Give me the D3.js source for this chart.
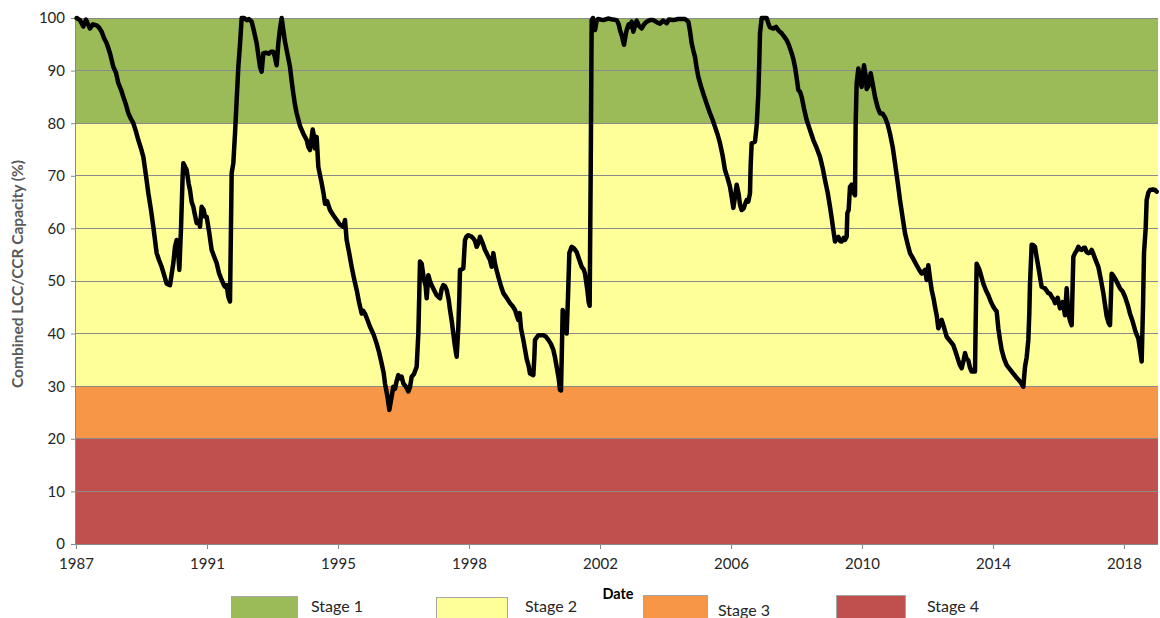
<!DOCTYPE html>
<html>
<head>
<meta charset="utf-8">
<script src="https://cdnjs.cloudflare.com/ajax/libs/d3/7.8.5/d3.min.js"></script>
<style>
  html, body { margin: 0; padding: 0; background: #ffffff; }
  svg { display: block; font-family: Lato, "Open Sans", sans-serif; }
</style>
</head>
<body>
<svg id="chart" width="1160" height="618"></svg>
<script>
// Drought stage thresholds (% of combined capacity)
const stageNames = ["Stage 1", "Stage 2", "Stage 3", "Stage 4"];
const stageBounds = [[80, 100], [30, 80], [20, 30], [0, 20]];

// Axis ticks: dates (decimal years) and the labels printed under them
const tickYears = [1987.17, 1991.10, 1995.03, 1998.96, 2002.89, 2006.82, 2010.75, 2014.68, 2018.61];
const tickLabels = ["1987", "1991", "1995", "1998", "2002", "2006", "2010", "2014", "2018"];
const yTicks = [0, 10, 20, 30, 40, 50, 60, 70, 80, 90, 100];
const dateDomain = [1987.17, 2019.63];

// Combined LCC/CCR capacity (%) by date (decimal year)
const capacity = [
  [1987.19,100],[1987.29,99.6],[1987.39,98.4],[1987.47,99.7],[1987.59,98.0],[1987.68,98.8],[1987.79,98.6],[1987.86,98.2],
  [1987.94,97.4],[1988.01,96.2],[1988.09,95.2],[1988.19,93.3],[1988.29,90.7],[1988.37,89.6],[1988.44,87.6],[1988.52,86.4],
  [1988.59,85.0],[1988.67,83.5],[1988.74,81.9],[1988.82,80.8],[1988.89,80.0],[1988.97,78.4],[1989.04,76.8],[1989.12,75.2],
  [1989.19,73.6],[1989.27,70.0],[1989.34,66.7],[1989.42,63.5],[1989.49,60.3],[1989.59,55.3],[1989.66,54.0],[1989.74,52.7],
  [1989.81,51.2],[1989.89,49.5],[1989.99,49.2],[1990.09,53.4],[1990.14,56.5],[1990.19,57.8],[1990.23,56.0],[1990.27,52.1],
  [1990.32,60.0],[1990.37,70.0],[1990.39,72.4],[1990.49,71.1],[1990.55,68.5],[1990.59,67.3],[1990.64,65.0],[1990.69,64.1],
  [1990.74,62.5],[1990.79,61.0],[1990.85,61.5],[1990.89,60.3],[1990.94,64.1],[1991.00,63.5],[1991.04,62.2],[1991.09,62.2],
  [1991.16,59.5],[1991.24,55.9],[1991.31,54.7],[1991.39,53.4],[1991.46,51.5],[1991.54,50.2],[1991.60,49.3],[1991.64,48.9],
  [1991.69,49.2],[1991.74,47.0],[1991.79,46.1],[1991.84,70.5],[1991.89,72.4],[1991.94,78.0],[1991.99,84.4],[1992.04,90.7],
  [1992.09,95.0],[1992.14,100],[1992.21,100],[1992.29,99.6],[1992.36,99.8],[1992.44,99.3],[1992.51,97.5],[1992.59,95.2],
  [1992.65,92.5],[1992.69,90.7],[1992.74,89.8],[1992.79,93.3],[1992.87,93.4],[1992.95,93.2],[1993.02,93.6],[1993.09,93.6],
  [1993.14,92.5],[1993.19,91.0],[1993.24,95.2],[1993.29,98.0],[1993.34,100],[1993.39,97.7],[1993.44,95.5],[1993.49,93.9],
  [1993.55,92.0],[1993.59,90.7],[1993.64,88.0],[1993.69,85.6],[1993.74,83.5],[1993.79,81.9],[1993.89,79.5],[1993.99,78.0],
  [1994.09,76.8],[1994.14,75.5],[1994.19,74.9],[1994.27,78.8],[1994.31,77.5],[1994.34,75.2],[1994.39,77.4],[1994.44,71.7],
  [1994.54,68.6],[1994.60,66.5],[1994.64,64.7],[1994.70,65.2],[1994.79,63.5],[1994.89,62.5],[1994.99,61.6],[1995.09,60.7],
  [1995.19,60.3],[1995.24,61.6],[1995.29,57.8],[1995.36,55.5],[1995.44,52.7],[1995.51,50.5],[1995.59,48.3],[1995.66,46.0],
  [1995.74,43.8],[1995.79,44.3],[1995.84,43.8],[1995.92,42.5],[1995.99,41.3],[1996.10,39.8],[1996.19,38.1],[1996.26,36.5],
  [1996.34,34.3],[1996.40,32.5],[1996.44,30.5],[1996.52,27.8],[1996.57,25.5],[1996.64,28.0],[1996.69,29.9],[1996.74,29.5],
  [1996.79,31.0],[1996.84,32.1],[1996.89,31.5],[1996.94,31.8],[1996.99,30.5],[1997.06,30.0],[1997.14,29.0],[1997.19,29.8],
  [1997.24,31.8],[1997.31,32.3],[1997.39,33.7],[1997.44,40.0],[1997.47,48.0],[1997.49,53.7],[1997.54,53.3],[1997.58,51.5],
  [1997.61,50.2],[1997.66,49.0],[1997.69,46.7],[1997.74,51.1],[1997.79,50.0],[1997.84,49.2],[1997.91,48.3],[1997.99,47.3],
  [1998.05,46.9],[1998.09,46.7],[1998.14,48.5],[1998.19,49.2],[1998.24,49.0],[1998.29,48.3],[1998.35,46.5],[1998.39,44.5],
  [1998.44,42.5],[1998.49,40.0],[1998.54,37.5],[1998.59,35.6],[1998.64,41.3],[1998.67,47.0],[1998.69,52.1],[1998.74,52.2],
  [1998.79,52.4],[1998.84,57.8],[1998.89,58.5],[1998.94,58.7],[1999.02,58.5],[1999.09,58.1],[1999.14,57.6],[1999.19,56.5],
  [1999.25,57.3],[1999.29,58.4],[1999.37,57.2],[1999.44,55.9],[1999.49,55.3],[1999.54,54.6],[1999.59,54.0],[1999.64,52.7],
  [1999.69,55.3],[1999.74,53.3],[1999.79,52.0],[1999.84,50.8],[1999.92,49.0],[1999.99,47.7],[2000.09,46.8],[2000.19,45.8],
  [2000.27,45.2],[2000.34,44.5],[2000.39,43.5],[2000.44,42.6],[2000.48,43.9],[2000.52,41.0],[2000.59,38.8],[2000.64,37.0],
  [2000.69,35.2],[2000.75,33.8],[2000.79,32.4],[2000.89,32.1],[2000.92,35.5],[2000.94,38.8],[2001.04,39.7],[2001.19,39.7],
  [2001.27,39.4],[2001.34,38.8],[2001.42,38.0],[2001.49,36.9],[2001.54,35.5],[2001.59,33.7],[2001.65,31.5],[2001.69,29.3],
  [2001.72,29.2],[2001.75,38.0],[2001.77,44.5],[2001.81,43.5],[2001.84,42.6],[2001.89,40.0],[2001.93,47.0],[2001.97,55.3],
  [2002.04,56.5],[2002.11,56.2],[2002.19,55.5],[2002.26,54.2],[2002.34,52.7],[2002.40,52.2],[2002.44,51.4],[2002.51,48.3],
  [2002.55,46.0],[2002.58,45.3],[2002.61,70.0],[2002.64,99.6],[2002.68,100],[2002.74,97.7],[2002.79,99.5],[2002.83,99.8],
  [2002.99,99.6],[2003.13,99.9],[2003.28,99.7],[2003.39,99.6],[2003.45,98.8],[2003.49,97.7],[2003.55,96.5],[2003.61,94.9],
  [2003.66,96.8],[2003.69,97.7],[2003.75,98.8],[2003.79,98.3],[2003.84,99.3],[2003.89,97.4],[2003.94,98.5],[2003.99,99.5],
  [2004.06,98.5],[2004.14,98.0],[2004.21,98.8],[2004.29,99.3],[2004.39,99.6],[2004.49,99.6],[2004.59,99.2],[2004.69,98.9],
  [2004.78,99.5],[2004.89,99.0],[2004.96,99.7],[2005.09,99.6],[2005.23,99.8],[2005.44,99.8],[2005.54,99.3],[2005.59,97.5],
  [2005.64,95.2],[2005.69,93.8],[2005.74,92.6],[2005.79,90.5],[2005.84,88.8],[2005.92,87.0],[2005.99,85.6],[2006.09,83.7],
  [2006.19,81.9],[2006.27,80.6],[2006.34,79.3],[2006.42,77.8],[2006.49,76.2],[2006.57,73.8],[2006.64,71.1],[2006.72,69.5],
  [2006.79,67.9],[2006.84,66.0],[2006.89,63.9],[2006.94,66.0],[2006.99,68.3],[2007.05,66.5],[2007.09,64.5],[2007.14,63.5],
  [2007.20,63.8],[2007.24,64.6],[2007.29,65.4],[2007.34,65.1],[2007.39,66.7],[2007.41,72.0],[2007.44,76.2],[2007.54,76.5],
  [2007.59,79.5],[2007.64,85.6],[2007.67,92.0],[2007.69,97.1],[2007.74,100],[2007.89,100],[2007.95,98.8],[2007.99,98.2],
  [2008.09,98.0],[2008.17,98.3],[2008.25,97.6],[2008.34,97.1],[2008.41,96.5],[2008.49,95.8],[2008.56,94.8],[2008.64,93.3],
  [2008.69,92.2],[2008.74,90.7],[2008.79,88.6],[2008.84,86.3],[2008.89,86.0],[2008.94,85.0],[2009.01,82.8],[2009.09,80.6],
  [2009.19,78.7],[2009.29,76.8],[2009.39,75.3],[2009.49,73.6],[2009.57,71.5],[2009.64,69.2],[2009.72,66.8],[2009.79,64.1],
  [2009.84,62.0],[2009.89,59.7],[2009.94,57.5],[2009.99,58.0],[2010.04,58.4],[2010.09,57.6],[2010.14,57.5],[2010.20,58.2],
  [2010.24,57.8],[2010.29,58.4],[2010.31,62.9],[2010.35,63.5],[2010.39,67.9],[2010.44,68.3],[2010.48,67.0],[2010.54,66.3],
  [2010.56,80.0],[2010.59,87.6],[2010.64,90.4],[2010.69,88.0],[2010.74,86.9],[2010.77,89.0],[2010.81,91.0],[2010.86,89.0],
  [2010.89,86.5],[2010.94,87.0],[2010.98,88.5],[2011.01,89.5],[2011.07,87.5],[2011.14,85.0],[2011.22,83.0],[2011.29,81.9],
  [2011.37,81.8],[2011.44,81.1],[2011.52,79.8],[2011.59,78.0],[2011.67,75.5],[2011.74,72.4],[2011.82,68.8],[2011.89,65.4],
  [2011.97,62.0],[2012.04,59.1],[2012.12,57.0],[2012.19,55.3],[2012.28,54.3],[2012.39,53.0],[2012.46,52.2],[2012.54,51.4],
  [2012.60,51.8],[2012.64,52.1],[2012.69,50.2],[2012.74,53.0],[2012.79,50.5],[2012.84,48.3],[2012.90,46.6],[2012.94,45.1],
  [2012.99,43.5],[2013.04,41.0],[2013.09,41.8],[2013.14,42.6],[2013.21,41.2],[2013.29,39.4],[2013.39,38.6],[2013.49,37.8],
  [2013.57,36.3],[2013.64,34.9],[2013.69,34.0],[2013.74,33.4],[2013.80,35.0],[2013.84,36.3],[2013.89,35.2],[2013.94,34.9],
  [2013.99,33.5],[2014.04,32.8],[2014.14,32.8],[2014.16,42.0],[2014.19,53.3],[2014.25,52.5],[2014.29,51.8],[2014.39,49.5],
  [2014.47,48.2],[2014.54,47.3],[2014.62,46.0],[2014.69,45.1],[2014.74,44.6],[2014.79,44.2],[2014.84,41.0],[2014.89,38.8],
  [2014.94,36.9],[2015.01,35.3],[2015.09,34.0],[2015.19,33.2],[2015.29,32.4],[2015.39,31.6],[2015.49,30.9],[2015.55,30.3],
  [2015.59,29.9],[2015.64,33.7],[2015.69,35.5],[2015.74,38.8],[2015.77,44.0],[2015.79,49.5],[2015.84,56.9],[2015.89,56.8],
  [2015.94,56.5],[2015.99,54.5],[2016.04,52.7],[2016.09,50.8],[2016.14,48.9],[2016.24,48.6],[2016.34,47.7],[2016.39,47.6],
  [2016.44,47.0],[2016.50,46.5],[2016.54,45.8],[2016.62,46.8],[2016.69,44.8],[2016.77,46.0],[2016.84,43.5],[2016.89,48.6],
  [2016.94,43.8],[2016.99,42.5],[2017.04,41.6],[2017.09,54.6],[2017.14,55.3],[2017.19,55.8],[2017.24,56.5],[2017.29,56.0],
  [2017.34,55.9],[2017.40,56.3],[2017.44,56.3],[2017.49,55.5],[2017.54,55.3],[2017.59,55.4],[2017.64,55.9],[2017.70,55.0],
  [2017.74,54.3],[2017.84,52.7],[2017.91,50.5],[2017.99,47.7],[2018.04,45.5],[2018.09,43.3],[2018.15,42.0],[2018.19,41.6],
  [2018.24,51.4],[2018.29,51.0],[2018.34,50.5],[2018.42,49.5],[2018.49,48.6],[2018.57,48.0],[2018.64,47.0],[2018.72,45.5],
  [2018.79,43.8],[2018.87,42.3],[2018.94,40.7],[2018.99,39.8],[2019.04,39.1],[2019.09,37.0],[2019.14,34.7],[2019.18,45.0],
  [2019.21,55.3],[2019.26,60.0],[2019.29,65.4],[2019.34,66.8],[2019.39,67.3],[2019.48,67.4],[2019.54,67.3],[2019.59,67.0]
];

// ---- styling ----
const stageColors = ["#9bbb59", "#ffff99", "#f79646", "#c0504d"];
const gridColor = "#8a8a8a";
const textColor = "#262626";

const svg = d3.select("#chart");
const plot = { left: 76, right: 1158, top: 18, bottom: 544 };

const x = d3.scaleLinear().domain(dateDomain).range([plot.left, plot.right]);
const y = d3.scaleLinear().domain([0, 100]).range([plot.bottom, plot.top]);

// Stage bands
svg.append("g").selectAll("rect")
  .data(stageBounds)
  .join("rect")
  .attr("x", plot.left)
  .attr("width", plot.right - plot.left)
  .attr("y", d => y(d[1]))
  .attr("height", d => y(d[0]) - y(d[1]))
  .attr("fill", (d, i) => stageColors[i]);

// Horizontal gridlines
svg.append("g").selectAll("line")
  .data(yTicks.filter(v => v > 0))
  .join("line")
  .attr("x1", plot.left).attr("x2", plot.right)
  .attr("y1", d => y(d)).attr("y2", d => y(d))
  .attr("stroke", gridColor).attr("stroke-width", 1)
  .attr("shape-rendering", "crispEdges");

// Y axis
const yAxis = d3.axisLeft(y).tickValues(yTicks).tickSize(5).tickPadding(6).tickFormat(d3.format("d"));
const gy = svg.append("g").attr("transform", `translate(${plot.left},0)`).call(yAxis);
gy.select(".domain").attr("stroke", gridColor).attr("d", `M-0.5,${plot.top}V${plot.bottom}`);
gy.selectAll(".tick line").attr("stroke", gridColor);
gy.selectAll(".tick text")
  .attr("fill", textColor)
  .style("font-size", "15px")
  .style("font-family", "Lato, sans-serif");

// X axis
const xAxis = d3.axisBottom(x).tickValues(tickYears).tickSize(5).tickPadding(9)
  .tickFormat((d, i) => tickLabels[i]);
const gx = svg.append("g").attr("transform", `translate(0,${plot.bottom})`).call(xAxis);
gx.select(".domain").attr("stroke", gridColor).attr("d", `M${plot.left},0.5H${plot.right}`);
gx.selectAll(".tick line").attr("stroke", gridColor);
gx.selectAll(".tick text")
  .attr("fill", textColor)
  .style("font-size", "15px")
  .style("font-family", "Lato, sans-serif");

// Capacity line
const line = d3.line()
  .x(d => x(d[0]))
  .y(d => y(d[1]))
  .curve(d3.curveLinear);

svg.append("path")
  .datum(capacity)
  .attr("d", line)
  .attr("fill", "none")
  .attr("stroke", "#000000")
  .attr("stroke-width", 4.5)
  .attr("stroke-linejoin", "round")
  .attr("stroke-linecap", "round");

// Axis titles
svg.append("text")
  .attr("transform", "translate(23,274) rotate(-90)")
  .attr("text-anchor", "middle")
  .attr("fill", "#595959")
  .style("font-size", "15.5px")
  .style("font-weight", "bold")
  .text("Combined LCC/CCR Capacity (%)");

svg.append("text")
  .attr("x", 618).attr("y", 599)
  .attr("text-anchor", "middle")
  .attr("fill", "#000000")
  .style("font-size", "14.5px")
  .style("font-weight", "bold")
  .text("Date");

// Legend
const legendLayout = [
  { box: 231, boxW: 66, top: 596, text: 311, base: 612 },
  { box: 436, boxW: 71, top: 597, text: 525, base: 612 },
  { box: 643, boxW: 64, top: 595, text: 718, base: 616 },
  { box: 836, boxW: 69, top: 595, text: 927, base: 612 }
];
const legend = svg.append("g").selectAll("g")
  .data(stageNames)
  .join("g");
legend.append("rect")
  .attr("x", (d, i) => legendLayout[i].box + 0.5)
  .attr("y", (d, i) => legendLayout[i].top + 0.5)
  .attr("width", (d, i) => legendLayout[i].boxW)
  .attr("height", 30)
  .attr("fill", (d, i) => stageColors[i])
  .attr("stroke", "#a6a6a6")
  .attr("stroke-width", 1);
legend.append("text")
  .attr("x", (d, i) => legendLayout[i].text)
  .attr("y", (d, i) => legendLayout[i].base)
  .attr("fill", textColor)
  .style("font-size", "16px")
  .text(d => d);
</script>
</body>
</html>
